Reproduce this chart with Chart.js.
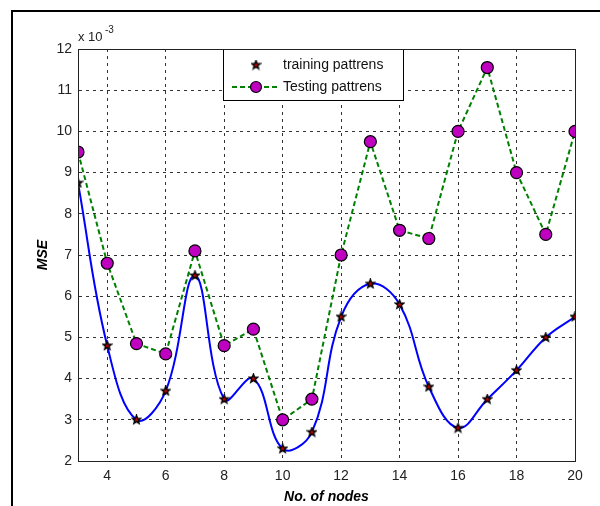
<!DOCTYPE html>
<html>
<head>
<meta charset="utf-8">
<script src="https://cdn.jsdelivr.net/npm/chart.js@4.4.1/dist/chart.umd.min.js"></script>
<style>
  body { margin: 0; background: #fff; }
</style>
</head>
<body>
<canvas id="mseChart" width="600" height="506"></canvas>
<script>
const nodes = [3, 4, 5, 6, 7, 8, 9, 10, 11, 12, 13, 14, 15, 16, 17, 18, 19, 20];
const trainingMse = [8.75, 4.8, 3.0, 3.7, 6.5, 3.5, 4.0, 2.3, 2.7, 5.5, 6.3, 5.8, 3.8, 2.8, 3.5, 4.2, 5.0, 5.5];
const testingMse = [9.5, 6.8, 4.85, 4.6, 7.1, 4.8, 5.2, 3.0, 3.5, 7.0, 9.75, 7.6, 7.4, 10.0, 11.55, 9.0, 7.5, 10.0];
const xTickLabels = [4, 6, 8, 10, 12, 14, 16, 18, 20];
const yTickLabels = [2, 3, 4, 5, 6, 7, 8, 9, 10, 11, 12];

const tickFont = { family: "Arial, 'Liberation Sans', sans-serif", size: 14 };

// red star with black outline, used as the training marker
function makeStar(size) {
  const c = document.createElement("canvas");
  c.width = size;
  c.height = size;
  const g = c.getContext("2d");
  const cx = size / 2, cy = size / 2, ro = size / 2 - 1, ri = ro * 0.42;
  g.beginPath();
  for (let i = 0; i < 10; i++) {
    const r = i % 2 === 0 ? ro : ri;
    const a = -Math.PI / 2 + (i * Math.PI) / 5;
    g.lineTo(cx + r * Math.cos(a), cy + r * Math.sin(a));
  }
  g.closePath();
  g.fillStyle = "#d00000";
  g.fill();
  g.strokeStyle = "#000";
  g.lineWidth = 1.4;
  g.stroke();
  return c;
}
const starMarker = makeStar(11);

const framePlugin = {
  id: "frame",
  beforeDraw(chart) {
    const ctx = chart.ctx;
    ctx.save();
    ctx.strokeStyle = "#000";
    ctx.lineWidth = 2;
    ctx.beginPath();
    ctx.moveTo(600, 11);
    ctx.lineTo(12, 11);
    ctx.lineTo(12, 506);
    ctx.stroke();
    ctx.restore();
  },
  afterDraw(chart) {
    const a = chart.chartArea;
    const ctx = chart.ctx;
    ctx.save();
    ctx.strokeStyle = "#222";
    ctx.lineWidth = 1;
    ctx.strokeRect(a.left + 0.5, a.top + 0.5, a.right - a.left, a.bottom - a.top);
    // exponent label
    ctx.fillStyle = "#222";
    ctx.font = "13px Arial, 'Liberation Sans', sans-serif";
    ctx.textBaseline = "alphabetic";
    ctx.fillText("x 10", a.left, a.top - 8);
    ctx.font = "10px Arial, 'Liberation Sans', sans-serif";
    ctx.fillText("-3", a.left + 27, a.top - 16);
    ctx.restore();
  },
};

const boxLegendPlugin = {
  id: "boxLegend",
  afterDatasetsDraw(chart) {
    const a = chart.chartArea;
    const ctx = chart.ctx;
    const left = a.left + 145, top = a.top, w = 180, h = 51;
    ctx.save();
    ctx.fillStyle = "#fff";
    ctx.fillRect(left, top, w, h);
    ctx.strokeStyle = "#000";
    ctx.lineWidth = 1;
    ctx.strokeRect(left + 0.5, top + 0.5, w, h);

    // training: marker only
    const y1 = top + 16, y2 = top + 38;
    ctx.drawImage(starMarker, left + 33 - 5.5, y1 - 5.5);

    // testing: dashed line with circle
    ctx.strokeStyle = "#008000";
    ctx.lineWidth = 2;
    ctx.setLineDash([5, 3]);
    ctx.beginPath();
    ctx.moveTo(left + 9, y2);
    ctx.lineTo(left + 56, y2);
    ctx.stroke();
    ctx.setLineDash([]);
    ctx.beginPath();
    ctx.arc(left + 33, y2, 5.5, 0, Math.PI * 2);
    ctx.fillStyle = "#c000c0";
    ctx.fill();
    ctx.strokeStyle = "#000";
    ctx.lineWidth = 1.2;
    ctx.stroke();

    ctx.fillStyle = "#111";
    ctx.font = "14px Arial, 'Liberation Sans', sans-serif";
    ctx.textBaseline = "middle";
    ctx.fillText(chart.data.datasets[0].label, left + 60, y1);
    ctx.fillText(chart.data.datasets[1].label, left + 60, y2);
    ctx.restore();
  },
};

const ctxMse = document.getElementById("mseChart").getContext("2d");
const mseChart = new Chart(ctxMse, {
  type: "line",
  data: {
    datasets: [
      {
        label: "training pattrens",
        data: nodes.map((n, i) => ({ x: n, y: trainingMse[i] })),
        borderColor: "#0000ff",
        borderWidth: 2,
        tension: 0.4,
        pointStyle: starMarker,
        pointRadius: 5,
      },
      {
        label: "Testing pattrens",
        data: nodes.map((n, i) => ({ x: n, y: testingMse[i] })),
        borderColor: "#008000",
        borderWidth: 2,
        borderDash: [5, 3],
        tension: 0,
        pointStyle: "circle",
        pointRadius: 6,
        pointBackgroundColor: "#c000c0",
        pointBorderColor: "#000",
        pointBorderWidth: 1.2,
      },
    ],
  },
  options: {
    responsive: false,
    animation: false,
    layout: {
      padding: { top: 49, right: 25, left: 35, bottom: 0 },
    },
    scales: {
      x: {
        type: "linear",
        min: 3,
        max: 20,
        afterBuildTicks: (scale) => {
          scale.ticks = xTickLabels.map((v) => ({ value: v }));
        },
        afterFit: (scale) => {
          scale.height = 45;
        },
        grid: {
          color: "#333",
          lineWidth: 1,
          drawTicks: false,
        },
        border: { color: "#222", dash: [3, 4] },
        ticks: {
          color: "#222",
          font: tickFont,
          padding: 7,
          maxRotation: 0,
        },
        title: {
          display: true,
          text: "No. of nodes",
          color: "#000",
          font: { family: "Arial, 'Liberation Sans', sans-serif", size: 14, weight: "bold", style: "italic" },
          padding: { top: 0, bottom: 0 },
        },
      },
      y: {
        min: 2,
        max: 12,
        afterBuildTicks: (scale) => {
          scale.ticks = yTickLabels.map((v) => ({ value: v }));
        },
        afterFit: (scale) => {
          scale.width = 43;
        },
        grid: {
          color: "#333",
          lineWidth: 1,
          drawTicks: false,
        },
        border: { color: "#222", dash: [3, 4] },
        ticks: {
          color: "#222",
          font: tickFont,
          padding: 6,
        },
        title: {
          display: true,
          text: "MSE",
          color: "#000",
          font: { family: "Arial, 'Liberation Sans', sans-serif", size: 14, weight: "bold", style: "italic" },
          padding: { top: 0, bottom: 0 },
        },
      },
    },
    plugins: {
      legend: { display: false },
      tooltip: { enabled: false },
    },
  },
  plugins: [framePlugin, boxLegendPlugin],
});
</script>
</body>
</html>
